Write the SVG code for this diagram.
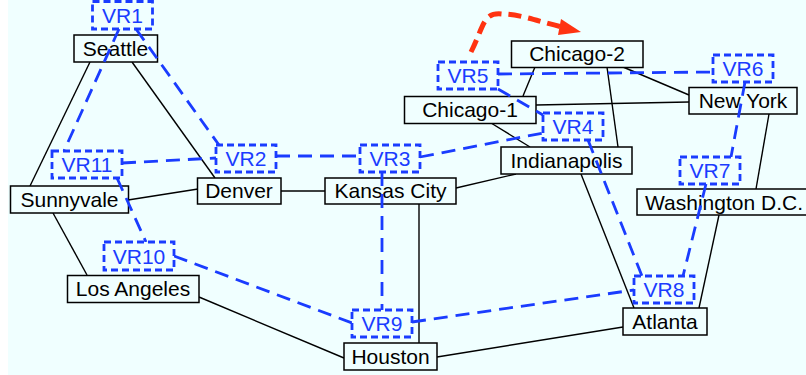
<svg xmlns="http://www.w3.org/2000/svg" width="806" height="375" viewBox="0 0 806 375">
<style>
text{font-family:"Liberation Sans",Arial,sans-serif;font-size:21px;text-anchor:middle}
.n rect{fill:#f0ffff;stroke:#000;stroke-width:1.5}
.n text{fill:#000}
.v rect{fill:#f0ffff;stroke:#1a3cff;stroke-width:2.8;stroke-dasharray:7 4}
.v text{fill:#1a3cff}
.k line{stroke:#000;stroke-width:1.4}
.b line{stroke:#1a3cff;stroke-width:2.8;stroke-dasharray:14 8}
</style>
<rect x="8" y="0" width="798" height="375" fill="#f0ffff"/>
<g id="connectors" class="k">
<line x1="90" y1="62" x2="30" y2="186"/><line x1="132" y1="62" x2="215" y2="178"/>
<line x1="128" y1="200" x2="198" y2="189"/><line x1="281" y1="191" x2="325" y2="191"/>
<line x1="456" y1="188" x2="516" y2="174"/><line x1="53" y1="213" x2="87" y2="275"/>
<line x1="199" y1="297" x2="344" y2="358"/><line x1="419" y1="204" x2="419" y2="343"/>
<line x1="437" y1="357" x2="623" y2="327"/><line x1="581" y1="174" x2="634" y2="308"/>
<line x1="719" y1="215" x2="699" y2="308"/><line x1="769" y1="114" x2="756" y2="189"/>
<line x1="536" y1="105" x2="689" y2="102"/><line x1="623" y1="67" x2="689" y2="95"/>
<line x1="535" y1="67" x2="523" y2="96"/><line x1="607" y1="67" x2="618" y2="147"/>
<line x1="491" y1="123" x2="530" y2="147"/>
</g>
<g id="seattle" class="n"><rect x="74" y="35" width="83.5" height="27"/><text x="115.500" y="56">Seattle</text></g>
<g id="sunnyvale" class="n"><rect x="10.500" y="186" width="118" height="27"/><text x="69.500" y="207">Sunnyvale</text></g>
<g id="denver" class="n"><rect x="197.500" y="178" width="83.500" height="26"/><text x="239" y="198">Denver</text></g>
<g id="kansas" class="n"><rect x="325" y="178" width="131" height="26"/><text x="390.500" y="198">Kansas City</text></g>
<g id="la" class="n"><rect x="67.500" y="275.500" width="131.500" height="27"/><text x="133" y="296">Los Angeles</text></g>
<g id="houston" class="n"><rect x="344" y="343" width="93" height="27"/><text x="390.500" y="364">Houston</text></g>
<g id="atlanta" class="n"><rect x="623" y="308" width="84" height="27"/><text x="665" y="329">Atlanta</text></g>
<g id="indianapolis" class="n"><rect x="501" y="147" width="131" height="27"/><text x="566.500" y="168">Indianapolis</text></g>
<g id="chicago1" class="n"><rect x="404.500" y="96.500" width="131.500" height="27"/><text x="470" y="117">Chicago-1</text></g>
<g id="chicago2" class="n"><rect x="511.500" y="41" width="131.500" height="26.500"/><text x="577" y="61">Chicago-2</text></g>
<g id="newyork" class="n"><rect x="689" y="87.500" width="108" height="26.500"/><text x="743" y="108">New York</text></g>
<g id="washington" class="n"><rect x="637" y="189" width="170" height="26"/><text x="724" y="210">Washington D.C.</text></g>
<g id="vpn-links" class="b">
<line x1="119" y1="29" x2="64" y2="151"/><line x1="136" y1="29" x2="219" y2="145"/>
<line x1="122" y1="163" x2="216" y2="158"/><line x1="276" y1="156" x2="360" y2="156"/>
<line x1="420" y1="157" x2="543" y2="133"/><line x1="498" y1="89" x2="543" y2="115"/>
<line x1="498" y1="74" x2="713" y2="72"/><line x1="745" y1="82" x2="731" y2="157"/>
<line x1="706" y1="184" x2="683" y2="276"/><line x1="588" y1="140" x2="642" y2="276"/>
<line x1="412" y1="322" x2="634" y2="290"/><line x1="382" y1="172" x2="382" y2="310"/>
<line x1="174" y1="256" x2="352" y2="323"/><line x1="117" y1="178" x2="146" y2="242"/>
</g>
<path d="M471 52C484 26 483 12 502 14C520 14 540 22 562 27" fill="none" stroke="#ff3311" stroke-width="5" stroke-dasharray="13 7"/>
<path d="M561 19L581 32L558 35Z" fill="#ff3311"/>
<g id="vr1" class="v"><rect x="92.500" y="1.500" width="60" height="27.500"/><text x="122.500" y="23">VR1</text></g>
<g id="vr2" class="v"><rect x="216" y="145" width="60" height="27"/><text x="246" y="166">VR2</text></g>
<g id="vr3" class="v"><rect x="360" y="145" width="60" height="27"/><text x="390" y="166">VR3</text></g>
<g id="vr4" class="v"><rect x="543" y="113" width="60" height="27"/><text x="573" y="134">VR4</text></g>
<g id="vr5" class="v"><rect x="438" y="62" width="60" height="27"/><text x="468" y="83">VR5</text></g>
<g id="vr6" class="v"><rect x="713" y="55" width="60" height="27"/><text x="743" y="76">VR6</text></g>
<g id="vr7" class="v"><rect x="680" y="157" width="60" height="27"/><text x="710" y="178">VR7</text></g>
<g id="vr8" class="v"><rect x="634" y="276" width="60" height="27"/><text x="664" y="297">VR8</text></g>
<g id="vr9" class="v"><rect x="352" y="310" width="60" height="27"/><text x="382" y="331">VR9</text></g>
<g id="vr10" class="v"><rect x="104" y="242" width="70" height="28"/><text x="139" y="264">VR10</text></g>
<g id="vr11" class="v"><rect x="52" y="151" width="70" height="27"/><text x="87" y="172">VR11</text></g>
</svg>
